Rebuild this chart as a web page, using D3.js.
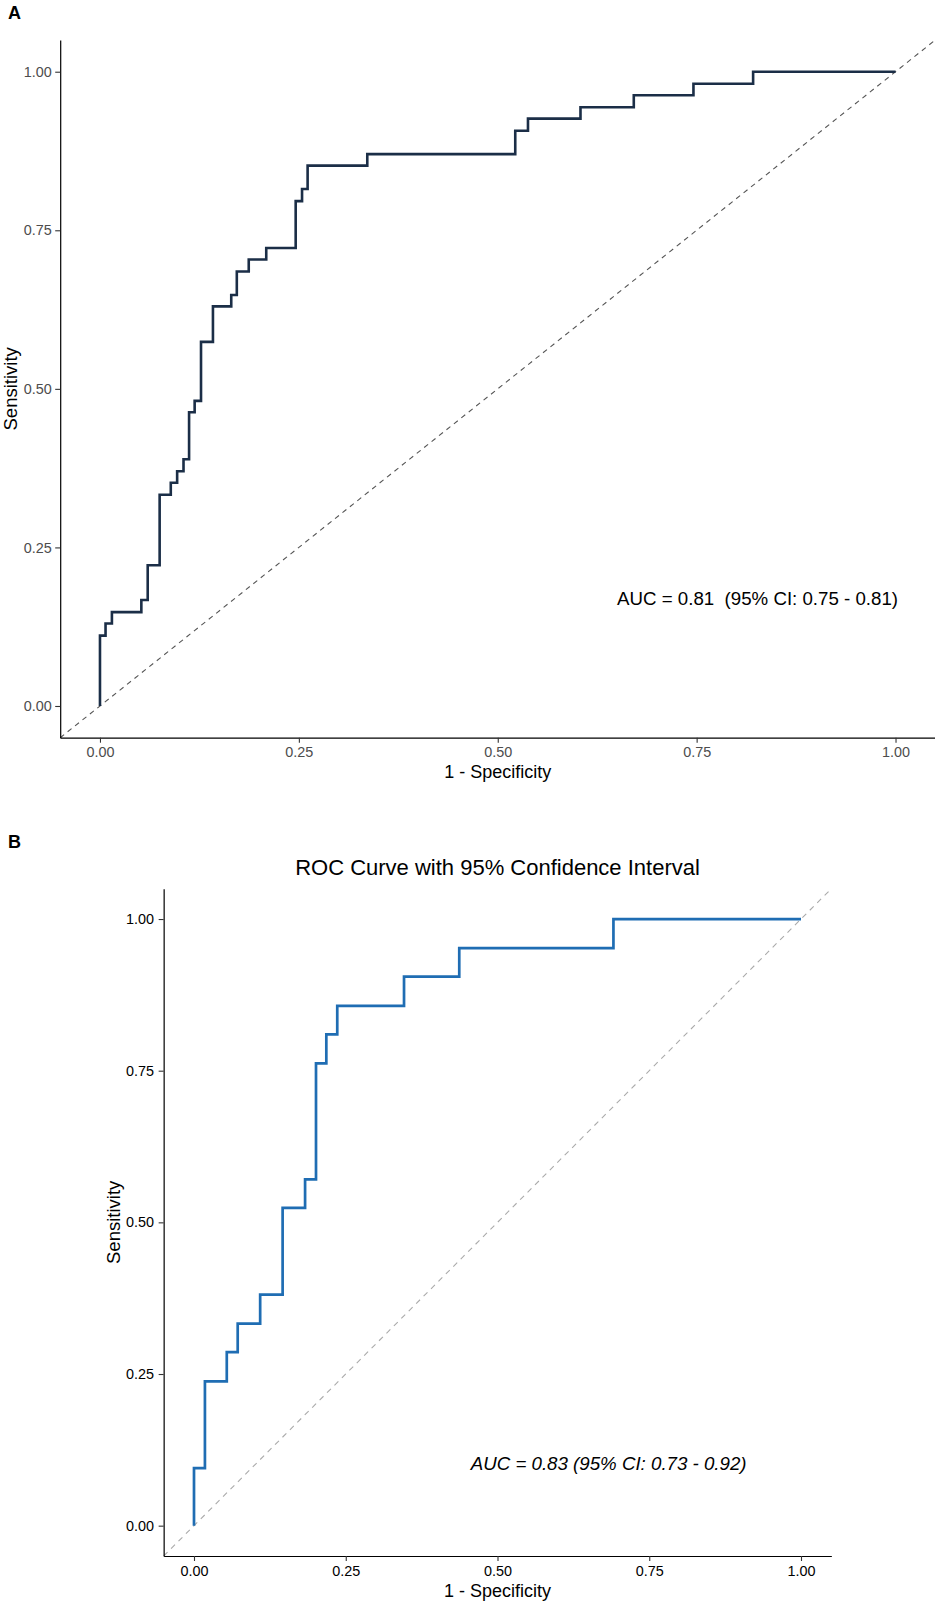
<!DOCTYPE html>
<html>
<head>
<meta charset="utf-8">
<script src="https://cdn.jsdelivr.net/npm/d3@7"></script>
<style>
  html, body { margin: 0; padding: 0; background: #fff; }
  svg { display: block; }
  text { font-family: "Liberation Sans", Arial, sans-serif; }
</style>
</head>
<body>
<svg id="chart" width="935" height="1611"></svg>
<script>
// ---- Data ----
// Panel A ROC corner points (1 - specificity, sensitivity)
const fprA = [0, 0, 0.007, 0.015, 0.052, 0.060, 0.075, 0.089, 0.097, 0.105, 0.112, 0.119, 0.127, 0.142, 0.165, 0.172, 0.187, 0.209, 0.246, 0.254, 0.261, 0.336, 0.522, 0.538, 0.604, 0.671, 0.746, 0.821, 1.000];
const tprA = [0, 0.111, 0.130, 0.148, 0.167, 0.222, 0.333, 0.352, 0.370, 0.389, 0.463, 0.481, 0.574, 0.630, 0.648, 0.685, 0.704, 0.722, 0.796, 0.815, 0.852, 0.870, 0.907, 0.926, 0.944, 0.963, 0.981, 1.000, 1.000];
// Panel B ROC corner points
const fprB = [0, 0, 0.018, 0.054, 0.072, 0.109, 0.146, 0.183, 0.201, 0.218, 0.236, 0.346, 0.437, 0.691, 1.000];
const tprB = [0, 0.095, 0.238, 0.286, 0.333, 0.381, 0.524, 0.571, 0.762, 0.810, 0.857, 0.905, 0.952, 1.000, 1.000];
const tickValues = [0, 0.25, 0.5, 0.75, 1];
const tickLabels = ["0.00", "0.25", "0.50", "0.75", "1.00"];
const domain = [-0.05, 1.05];
const diagonal = [-0.05, 1.05];
const labelA = "AUC = 0.81  (95% CI: 0.75 - 0.81)";
const labelB = "AUC = 0.83 (95% CI: 0.73 - 0.92)";
const titleB = "ROC Curve with 95% Confidence Interval";
const xTitle = "1 - Specificity";
const yTitle = "Sensitivity";

const svg = d3.select("#chart");
const FONT = '"Liberation Sans", Arial, sans-serif';

function panel(opts) {
  const x = d3.scaleLinear().domain(domain).range([opts.left, opts.right]);
  const y = d3.scaleLinear().domain(domain).range([opts.bottom, opts.top]);
  const g = svg.append("g");
  const fmt = (d) => tickLabels[tickValues.indexOf(d)];

  // diagonal reference
  g.append("line")
    .attr("x1", x(diagonal[0])).attr("y1", y(diagonal[0]))
    .attr("x2", x(diagonal[1])).attr("y2", y(diagonal[1]))
    .attr("stroke", opts.diagColor).attr("stroke-width", 1.1)
    .attr("stroke-dasharray", opts.dash);

  // ROC step curve
  const pts = opts.fpr.map((f, i) => [f, opts.tpr[i]]);
  g.append("path")
    .datum(pts)
    .attr("fill", "none")
    .attr("stroke", opts.color)
    .attr("stroke-width", opts.lw)
    .attr("stroke-linejoin", "miter")
    .attr("d", d3.line().x(d => x(d[0])).y(d => y(d[1])).curve(d3.curveStepAfter));

  // axes
  const ax = g.append("g").attr("transform", `translate(0,${opts.bottom})`)
    .call(d3.axisBottom(x).tickValues(tickValues).tickFormat(fmt).tickSize(5).tickSizeOuter(0).tickPadding(opts.xpad));
  const ay = g.append("g").attr("transform", `translate(${opts.left},0)`)
    .call(d3.axisLeft(y).tickValues(tickValues).tickFormat(fmt).tickSize(5).tickSizeOuter(0).tickPadding(opts.ypad));
  [ax, ay].forEach(a => {
    a.select(".domain").attr("stroke", "#000").attr("stroke-width", 1.2);
    a.selectAll(".tick line").attr("stroke", "#333").attr("stroke-width", 1.1);
    a.selectAll(".tick text").attr("fill", opts.tickColor).style("font-size", "14.4px").style("font-family", FONT);
  });

  // axis titles
  g.append("text")
    .attr("x", (opts.left + opts.right) / 2).attr("y", opts.xTitleY)
    .attr("text-anchor", "middle").style("font-size", "18px").attr("fill", "#000")
    .text(xTitle);
  g.append("text")
    .attr("transform", `translate(${opts.yTitleX},${(opts.top + opts.bottom) / 2}) rotate(-90)`)
    .attr("text-anchor", "middle").style("font-size", "18.5px").attr("fill", "#000")
    .text(yTitle);

  // annotation
  g.append("text")
    .attr("x", x(opts.annX)).attr("y", y(opts.annY))
    .attr("text-anchor", "start")
    .style("font-size", "18.7px").style("font-style", opts.italic ? "italic" : "normal")
    .style("white-space", "pre").attr("xml:space", "preserve")
    .attr("fill", "#000")
    .text(opts.label);
  return { x, y, g };
}

// Panel A
panel({
  left: 60.2, right: 935.3, top: 40, bottom: 737.7,
  fpr: fprA, tpr: tprA, color: "#1b2e47", lw: 2.6,
  diagColor: "#555", dash: "5,4.5", tickColor: "#4d4d4d",
  xpad: 4, ypad: 3.5, xTitleY: 777.5, yTitleX: 16.5,
  annX: 0.65, annY: 0.159, label: labelA, italic: false
});
svg.append("text").attr("x", 8).attr("y", 19.3)
  .style("font-size", "18px").style("font-weight", "bold").text("A");

// Panel B
const pB = panel({
  left: 163.65, right: 831.35, top: 888.7, bottom: 1556,
  fpr: fprB, tpr: tprB, color: "#1f6db3", lw: 2.7,
  diagColor: "#aaaaaa", dash: "5.5,5", tickColor: "#000",
  xpad: 5, ypad: 4.6, xTitleY: 1596.7, yTitleX: 120,
  annX: 0.456, annY: 0.092, label: labelB, italic: true
});
svg.append("text").attr("x", 8).attr("y", 848)
  .style("font-size", "18px").style("font-weight", "bold").text("B");
svg.append("text")
  .attr("x", (163.65 + 831.35) / 2).attr("y", 875)
  .attr("text-anchor", "middle").style("font-size", "22px").attr("fill", "#000")
  .text(titleB);
</script>
</body>
</html>
